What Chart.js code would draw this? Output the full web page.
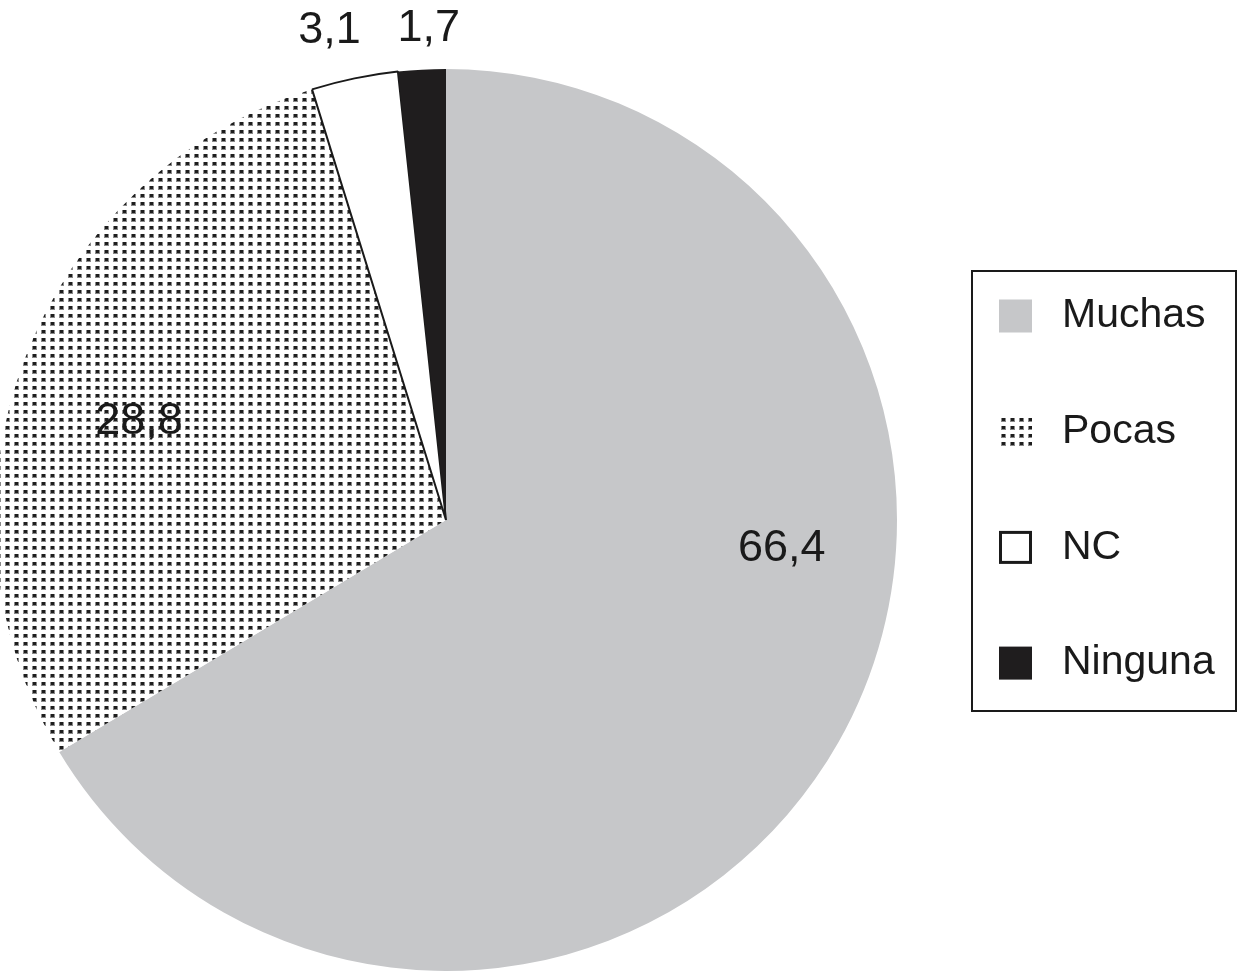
<!DOCTYPE html>
<html>
<head>
<meta charset="utf-8">
<script src="https://cdn.jsdelivr.net/npm/chart.js@4.4.1/dist/chart.umd.min.js"></script>
<style>
  html, body { margin: 0; padding: 0; background: #fff; overflow: hidden; }
  #wrap { position: relative; width: 1238px; height: 972px; overflow: hidden; }
  /* pie is clipped a little on the left in the original */
  #pie { position: absolute; left: -6px; top: 0; }
</style>
</head>
<body>
<div id="wrap"><canvas id="pie" width="1244" height="972"></canvas></div>
<script>
/* ── Data ──────────────────────────────────────────────── */
const categories = ['Muchas', 'Pocas', 'NC', 'Ninguna'];
const values     = [66.4, 28.8, 3.1, 1.7];
const valueText  = values.map(v => String(v).replace('.', ','));

/* ── Styles ────────────────────────────────────────────── */
const GRAY  = '#c6c7c9';
const BLACK = '#1f1d1e';
const FONT  = "'Liberation Sans', Arial, Helvetica, sans-serif";
const SHIFT = 6; // canvas offset, so legend coords stay in page pixels

// where each value label sits: canvas angle (deg) and fraction of radius
const labelAt = [
  { angle: 4.8,   r: 0.747 },
  { angle: 197.8, r: 0.715 },
  { angle: 256.6, r: 1.115 },
  { angle: 268.0, r: 1.090 },
];

function dotPattern() {
  const c = document.createElement('canvas');
  c.width = 9; c.height = 8;
  const g = c.getContext('2d');
  g.fillStyle = '#fff';
  g.fillRect(0, 0, 9, 8);
  g.fillStyle = '#888';
  g.fillRect(2, 2, 5, 4);
  g.fillStyle = '#1e1e1e';
  g.fillRect(3, 2, 3, 3);
  return g.createPattern(c, 'repeat');
}

const fills   = [GRAY, dotPattern(), '#ffffff', BLACK];
const borders = [0, 0, 2, 0];

/* ── Value labels ──────────────────────────────────────── */
const valueLabels = {
  id: 'valueLabels',
  afterDatasetsDraw(chart) {
    const ctx = chart.ctx;
    const arcs = chart.getDatasetMeta(0).data;
    ctx.save();
    ctx.font = `45px ${FONT}`;
    ctx.fillStyle = '#1a1a1a';
    ctx.textAlign = 'center';
    ctx.textBaseline = 'middle';
    arcs.forEach((arc, i) => {
      const a = labelAt[i].angle * Math.PI / 180;
      const d = arc.outerRadius * labelAt[i].r;
      ctx.fillText(valueText[i], arc.x + d * Math.cos(a), arc.y + d * Math.sin(a));
    });
    ctx.restore();
  }
};

/* ── Boxed legend on the right ─────────────────────────── */
const boxLegend = {
  id: 'boxLegend',
  afterDraw(chart) {
    const ctx = chart.ctx;
    const ds = chart.data.datasets[0];
    ctx.save();
    ctx.translate(SHIFT, 0);
    ctx.strokeStyle = '#1a1a1a';
    ctx.lineWidth = 2;
    ctx.strokeRect(972, 271, 264, 440);
    ctx.font = `41px ${FONT}`;
    ctx.textBaseline = 'middle';
    ctx.textAlign = 'left';
    chart.data.labels.forEach((lab, i) => {
      const cy = 316 + i * 115.7;
      const sz = 33;
      ctx.fillStyle = ds.backgroundColor[i];
      ctx.fillRect(999, cy - sz / 2, sz, sz);
      if (ds.borderWidth[i]) {
        ctx.lineWidth = 3;
        ctx.strokeStyle = '#1a1a1a';
        ctx.strokeRect(1000.5, cy - sz / 2 + 1.5, sz - 3, sz - 3);
      }
      ctx.fillStyle = '#1a1a1a';
      ctx.fillText(lab, 1062, cy);
    });
    ctx.restore();
  }
};

/* ── Chart ─────────────────────────────────────────────── */
new Chart(document.getElementById('pie'), {
  type: 'pie',
  data: {
    labels: categories,
    datasets: [{
      data: values,
      backgroundColor: fills,
      borderColor: '#1a1a1a',
      borderWidth: borders,
    }],
  },
  options: {
    responsive: false,
    animation: false,
    layout: { padding: { left: 0, top: 68, right: 340, bottom: 0 } },
    plugins: {
      legend: { display: false },
      tooltip: { enabled: false },
    },
  },
  plugins: [valueLabels, boxLegend],
});
</script>
</body>
</html>
